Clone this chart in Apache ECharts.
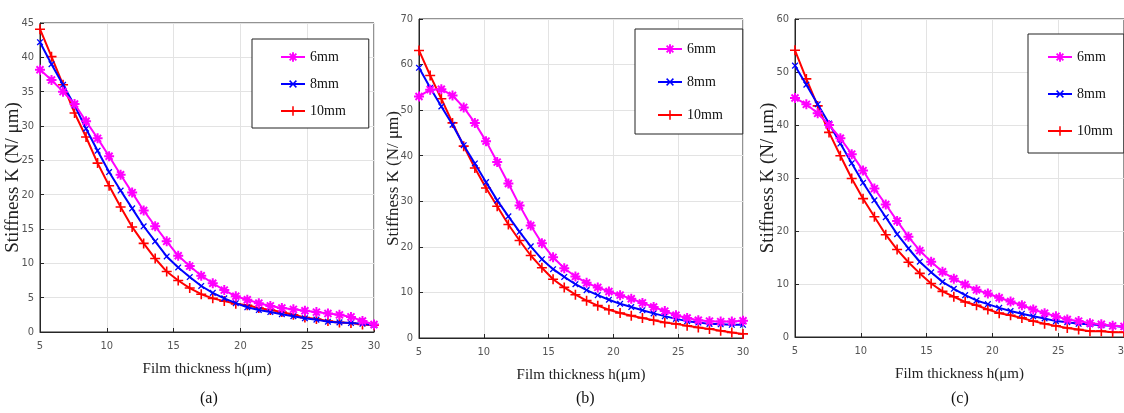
<!DOCTYPE html>
<html><head><meta charset="utf-8">
<script src="https://cdn.jsdelivr.net/npm/echarts@6/dist/echarts.min.js"></script>
<style>html,body{margin:0;padding:0;background:#fff}#c{width:1124px;height:413px}</style>
</head><body><div id="c"></div>
<script>
const xs = [5,5.862,6.724,7.586,8.448,9.310,10.172,11.034,11.897,12.759,13.621,14.483,15.345,16.207,17.069,17.931,18.793,19.655,20.517,21.379,22.241,23.103,23.966,24.828,25.690,26.552,27.414,28.276,29.138,30];
const seriesNames = ['6mm','8mm','10mm'];
const panelLabels = ['(a)','(b)','(c)'];
const xTitle = 'Film thickness h(μm)';
const yTitle = 'Stiffness K (N/ μm)';
const yMax = [45,70,60];
const yStep = [5,10,10];
// panel a
const a6  = [38.2,36.7,35.0,33.2,30.7,28.2,25.6,22.9,20.3,17.7,15.4,13.2,11.1,9.6,8.2,7.1,6.1,5.2,4.7,4.2,3.8,3.5,3.3,3.1,2.9,2.7,2.5,2.2,1.6,1.1];
const a8  = [42.2,39.0,36.0,33.0,29.6,26.4,23.3,20.6,18.0,15.4,13.2,11.0,9.4,8.0,6.7,5.7,4.9,4.2,3.6,3.2,2.9,2.6,2.3,2.0,1.8,1.5,1.4,1.3,1.2,1.0];
const a10 = [44.1,40.1,36.0,31.9,28.4,24.6,21.3,18.2,15.3,12.9,10.7,8.8,7.5,6.4,5.5,4.9,4.5,4.1,3.9,3.5,3.2,2.9,2.5,2.1,1.9,1.6,1.4,1.3,1.1,1.0];
// panel b
const b6  = [53.0,54.5,54.6,53.2,50.6,47.2,43.2,38.6,33.9,29.1,24.7,20.8,17.7,15.3,13.5,12.1,11.1,10.2,9.4,8.6,7.7,6.8,5.9,5.0,4.4,3.9,3.7,3.6,3.6,3.8];
const b8  = [59.3,54.9,50.8,46.8,42.3,38.3,34.2,30.2,26.7,23.3,20.1,17.3,15.1,13.4,11.8,10.5,9.4,8.4,7.5,6.8,6.1,5.4,4.8,4.2,3.7,3.4,3.1,3.0,2.9,2.9];
const b10 = [63.1,57.6,52.5,47.2,42.1,37.3,32.9,28.9,24.9,21.4,18.1,15.4,12.9,11.1,9.5,8.2,7.1,6.2,5.5,4.9,4.4,3.9,3.4,3.1,2.7,2.3,2.0,1.6,1.2,0.9];
// panel c
const c6  = [45.1,43.9,42.2,40.0,37.5,34.5,31.4,28.0,25.0,21.9,18.9,16.3,14.2,12.3,11.0,9.9,8.9,8.2,7.4,6.7,6.0,5.2,4.5,3.9,3.3,3.0,2.6,2.4,2.1,2.0];
const c8  = [51.2,47.6,43.9,40.3,36.5,32.8,29.1,25.8,22.6,19.4,16.7,14.2,12.2,10.4,9.1,7.9,6.9,6.2,5.5,4.9,4.4,3.9,3.5,3.0,2.8,2.5,2.4,2.2,2.1,1.9];
const c10 = [54.1,48.7,43.6,38.6,34.2,29.9,26.1,22.7,19.3,16.5,14.1,12.0,10.1,8.6,7.6,6.6,6.0,5.2,4.5,4.1,3.6,3.0,2.5,2.1,1.7,1.4,1.1,1.1,0.9,0.9];

const panels = [[a6,a8,a10],[b6,b8,b10],[c6,c8,c10]];
const colors = ['#ff00ff','#0000ff','#ff0000'];
const plus = 'path://M-0.8,-5L0.8,-5L0.8,-0.8L5,-0.8L5,0.8L0.8,0.8L0.8,5L-0.8,5L-0.8,0.8L-5,0.8L-5,-0.8L-0.8,-0.8Z';
const star = 'path://M-1,-5L1,-5L1,-1L5,-1L5,1L1,1L1,5L-1,5L-1,1L-5,1L-5,-1L-1,-1Z M-4.2,-2.8L-2.8,-4.2L0,-1.4L2.8,-4.2L4.2,-2.8L1.4,0L4.2,2.8L2.8,4.2L0,1.4L-2.8,4.2L-4.2,2.8L-1.4,0Z';
const symbols = [star, plus, plus];
const symRot = [0,45,0];
const symSize = [10,8,10];

const grids = [
  {left:40, top:23, width:334, height:309},
  {left:419, top:19, width:324, height:319},
  {left:795, top:19, width:329, height:318}
];
const tickFont = '"Liberation Sans Narrow","DejaVu Sans Condensed",sans-serif';
const serif = '"Liberation Serif","DejaVu Serif",serif';

const option = {
  animation:false,
  backgroundColor:'#fff',
  grid: grids.map(g=>Object.assign({show:true,borderColor:'#262626',borderWidth:1,backgroundColor:'transparent',outerBoundsMode:'none',containLabel:false},g)),
  xAxis: grids.map((g,i)=>({
    type:'value', gridIndex:i, min:5, max:30, interval:5,
    axisLine:{show:true,onZero:false,lineStyle:{color:'#262626'}},
    axisTick:{show:true,inside:true,length:4,lineStyle:{color:'#262626'}},
    axisLabel:{color:'#555',fontFamily:tickFont,fontSize:11,margin:9},
    splitLine:{show:true,lineStyle:{color:'#e3e3e3'}},
    name:xTitle, nameLocation:'middle', nameGap:30, nameMoveOverlap:false,
    nameTextStyle:{fontFamily:serif,fontSize:15,color:'#222'}
  })),
  yAxis: grids.map((g,i)=>({
    type:'value', gridIndex:i, min:0, max:yMax[i], interval:yStep[i],
    axisLine:{show:true,lineStyle:{color:'#262626'}},
    axisTick:{show:true,inside:true,length:4,lineStyle:{color:'#262626'}},
    axisLabel:{color:'#555',fontFamily:tickFont,fontSize:11,margin:6},
    splitLine:{show:true,lineStyle:{color:'#e3e3e3'}},
    name:yTitle, nameLocation:'middle', nameGap:17, nameMoveOverlap:false,
    nameTextStyle:{fontFamily:serif,fontSize:[19,17,19][i],color:'#222'}
  })),
  legend: [
    {left:252, top:39, padding:[11,23,10,28], itemGap:13},
    {left:635, top:29, padding:[13,20,12,22], itemGap:19},
    {left:1028, top:34, padding:[16,11,15,19], itemGap:23}
  ].map(l=>Object.assign({
    orient:'vertical', data:seriesNames, backgroundColor:'#fff',
    borderColor:'#222', borderWidth:1, itemWidth:24, itemHeight:12,
    textStyle:{fontFamily:serif,fontSize:14,color:'#111'},
    selectedMode:false
  },l)),
  graphic: panelLabels.map((t,i)=>({
    type:'text', left:[200,576,951][i], top:391,
    style:{text:t,font:'16px '+serif,fill:'#111'}
  })),
  series: []
};
panels.forEach((p,pi)=>{
  p.forEach((ys,si)=>{
    option.series.push({
      type:'line', name:seriesNames[si], xAxisIndex:pi, yAxisIndex:pi,
      data: xs.map((x,k)=>[x,ys[k]]),
      smooth:false, symbol:symbols[si], symbolSize:symSize[si], symbolRotate:symRot[si],
      showAllSymbol:true, clip:false,
      lineStyle:{color:colors[si],width:2},
      itemStyle:{color:colors[si]},
      z: 3-si
    });
  });
});
const chart = echarts.init(document.getElementById('c'),null,{renderer:'canvas'});
chart.setOption(option);
</script></body></html>
